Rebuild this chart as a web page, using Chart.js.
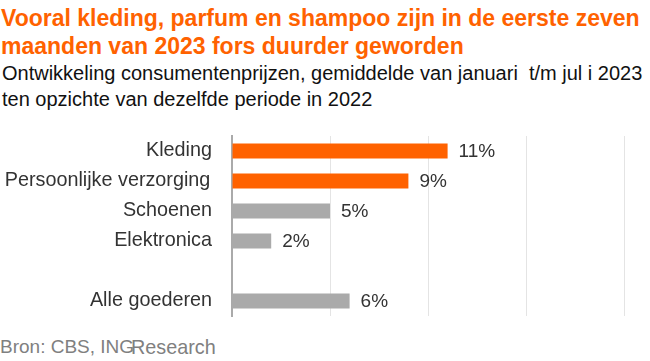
<!DOCTYPE html>
<html>
<head>
<meta charset="utf-8">
<script src="https://cdn.jsdelivr.net/npm/chart.js@4/dist/chart.umd.min.js"></script>
<style>
  html, body { margin: 0; padding: 0; background: #fff; }
  body { width: 650px; height: 361px; position: relative; overflow: hidden; font-family: "Liberation Sans", Arial, sans-serif; }
  #titel { position: absolute; left: 1px; top: 4px; width: 650px; font-size: 23px; line-height: 28px; font-weight: bold; color: #ff6200; white-space: nowrap; }
  #sub { position: absolute; left: 2px; top: 60px; font-size: 20px; line-height: 26px; color: #111; white-space: nowrap; }
  .bron { position: absolute; top: 336px; font-size: 19px; line-height: 22px; color: #808080; white-space: nowrap; }
  canvas { position: absolute; left: 0; top: 0; }
</style>
</head>
<body>
<div id="titel">Vooral kleding, parfum en shampoo zijn in de eerste zeven<br>maanden van 2023 fors duurder geworden</div>
<div id="sub">Ontwikkeling consumentenprijzen, gemiddelde van januari&nbsp; t/m jul i 2023<br>ten opzichte van dezelfde periode in 2022</div>
<div class="bron" style="left:0">Bron: CBS, ING</div>
<div class="bron" style="left:131px; font-size:19.8px">Research</div>
<canvas id="prijzenChart" width="650" height="361"></canvas>
<script>
// categorieën en waarden (% prijsstijging)
const categorieen = ['Kleding', 'Persoonlijke verzorging\u200A', 'Schoenen', 'Elektronica', '', 'Alle goederen'];
const waarden = [11, 9, 5, 2, null, 6];
const kleuren = ['#ff6200', '#ff6200', '#aaaaaa', '#aaaaaa', '#aaaaaa', '#aaaaaa'];
const asTicks = [0, 5, 10, 15, 20];

// labels achter de balken
const waardeLabels = {
  id: 'waardeLabels',
  afterDatasetsDraw(chart) {
    const ctx = chart.ctx;
    const meta = chart.getDatasetMeta(0);
    ctx.save();
    ctx.font = '19px "Liberation Sans", Arial, sans-serif';
    ctx.fillStyle = '#333333';
    ctx.textBaseline = 'middle';
    ctx.textAlign = 'left';
    meta.data.forEach((bar, i) => {
      if (waarden[i] == null) return;
      ctx.fillText(waarden[i] + '%', bar.x + 11, bar.y + 1);
    });
    ctx.restore();
  }
};

new Chart(document.getElementById('prijzenChart').getContext('2d'), {
  type: 'bar',
  data: {
    labels: categorieen,
    datasets: [{
      data: waarden,
      backgroundColor: kleuren,
      categoryPercentage: 1,
      barPercentage: 0.5
    }]
  },
  options: {
    indexAxis: 'y',
    responsive: false,
    animation: false,
    layout: { padding: { top: 136, bottom: 45, right: 26, left: 0 } },
    plugins: {
      legend: { display: false },
      tooltip: { enabled: false }
    },
    scales: {
      x: {
        min: asTicks[0],
        max: asTicks[asTicks.length - 1],
        afterBuildTicks: s => { s.ticks = asTicks.map(v => ({ value: v })); },
        afterFit: s => { s.height = 0; },
        ticks: { display: false },
        grid: { color: '#e4e4e4', lineWidth: 1, drawTicks: false },
        border: { display: false }
      },
      y: {
        afterFit: s => { s.width = 232; },
        ticks: {
          padding: 20,
          color: '#333333',
          font: { family: '"Liberation Sans", Arial, sans-serif', size: 19.8 }
        },
        grid: { display: false, drawTicks: false },
        border: { display: true, color: '#aaaaaa', width: 2 }
      }
    }
  },
  plugins: [waardeLabels]
});
</script>
</body>
</html>
